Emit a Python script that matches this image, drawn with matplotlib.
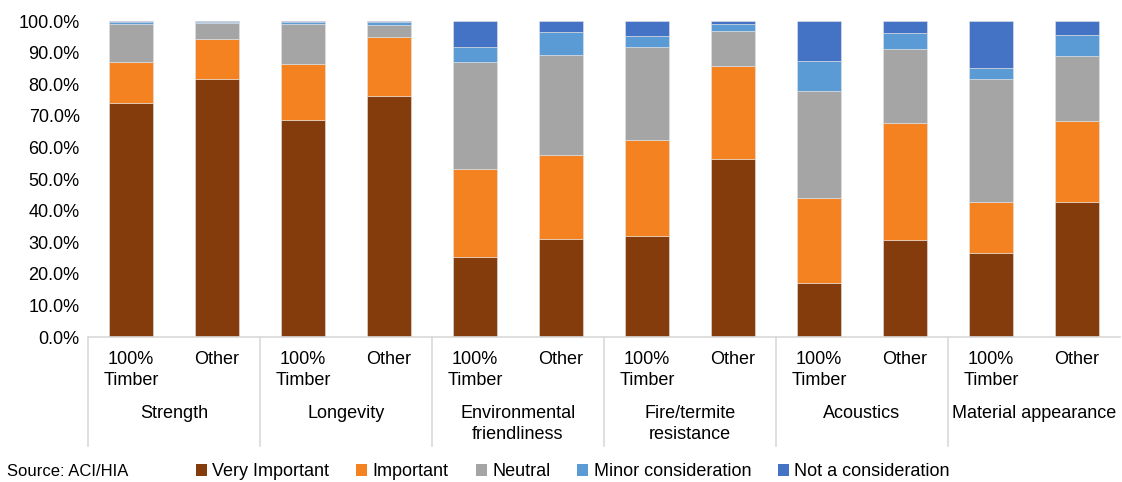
import matplotlib.pyplot as plt
import numpy as np
from matplotlib.patches import Patch

plt.rcParams['font.family'] = ['Liberation Sans', 'DejaVu Sans']

groups = ["Strength", "Longevity", "Environmental\nfriendliness", "Fire/termite\nresistance",
          "Acoustics", "Material appearance"]
sub_labels = ["100%\nTimber", "Other"]
series = ["Very Important", "Important", "Neutral", "Minor consideration", "Not a consideration"]
colors = ["#843C0C", "#F58220", "#A5A5A5", "#5B9BD5", "#4472C4"]

# one value per bar: Strength(100% Timber, Other), Longevity(...), ...
very_important = [74.0, 81.5, 68.6, 76.3, 25.3, 31.1, 32.1, 56.4, 17.2, 30.6, 26.7, 42.6]
important      = [13.0, 12.7, 17.8, 18.7, 27.9, 26.4, 30.2, 29.5, 26.9, 37.0, 15.9, 25.7]
neutral        = [12.0,  5.3, 12.7,  3.8, 33.7, 31.7, 29.4, 11.0, 33.7, 23.6, 39.0, 20.5]
minor          = [ 0.8,  0.3,  0.7,  0.8,  5.0,  7.2,  3.6,  2.2,  9.5,  5.0,  3.4,  6.8]
not_consid     = [ 0.2,  0.2,  0.2,  0.4,  8.1,  3.6,  4.7,  0.9, 12.7,  3.8, 15.0,  4.4]

values = [very_important, important, neutral, minor, not_consid]

fig = plt.figure(figsize=(11.22, 4.82), dpi=100)
ax = fig.add_axes([88/1122, 1-337/482, 1032/1122, 316/482])

x = np.arange(len(very_important))
bottom = np.zeros(len(x))
for vals, col, name in zip(values, colors, series):
    ax.bar(x, vals, width=0.51, bottom=bottom, color=col, edgecolor='#e4e4e4',
           linewidth=0.4, label=name)
    bottom += np.array(vals)

ax.set_xlim(-0.5, len(x) - 0.5)
ax.set_ylim(0, 100)
ax.set_yticks(np.arange(0, 101, 10))
ax.set_yticklabels([f"{v:.1f}%" for v in np.arange(0, 101, 10)], fontsize=13)
ax.tick_params(axis='y', length=0, pad=6)
ax.set_xticks([])
for s in ['top', 'right', 'left']:
    ax.spines[s].set_visible(False)
ax.spines['bottom'].set_color('#d9d9d9')
ax.spines['bottom'].set_linewidth(1.2)

tr = ax.get_xaxis_transform()
for i in x:
    ax.text(i, -0.045, sub_labels[i % 2], transform=tr, ha='center', va='top',
            fontsize=13, linespacing=1.3)
for g, name in enumerate(groups):
    ax.text(2*g + 0.5, -0.216, name, transform=tr, ha='center', va='top',
            fontsize=13, linespacing=1.3)
for g in range(len(groups)):
    ax.plot([2*g - 0.5, 2*g - 0.5], [0, -0.345], transform=tr, color='#d9d9d9',
            lw=1.2, clip_on=False)

fig.text(0.006, 1-472/482, "Source: ACI/HIA", fontsize=12, va='center')
handles = [Patch(facecolor=c, edgecolor='none') for c in colors]
fig.legend(handles, series, loc='center', bbox_to_anchor=(573/1122, 1-472/482),
           ncol=5, frameon=False, fontsize=13, handlelength=0.6, handleheight=0.6,
           handletextpad=0.3, columnspacing=1.5, borderpad=0)

fig.savefig("out.png", dpi=100)
